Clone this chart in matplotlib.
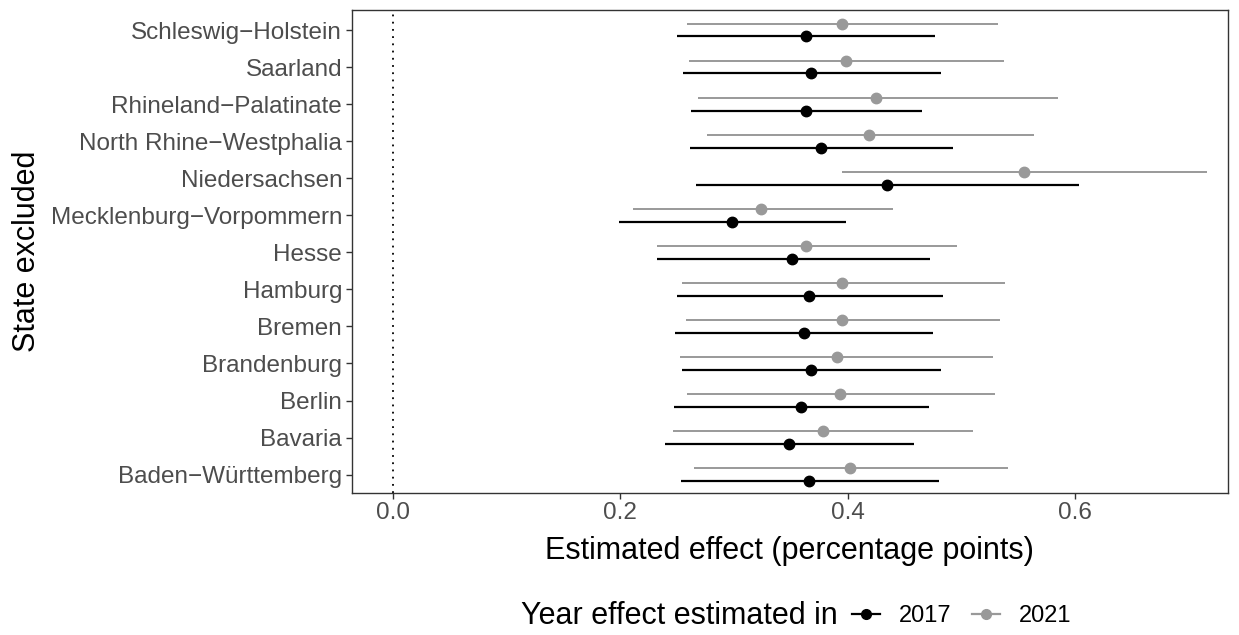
import matplotlib
matplotlib.use("Agg")
import matplotlib.pyplot as plt
from matplotlib.lines import Line2D
import numpy as np

plt.rcParams['font.family'] = ['Liberation Sans', 'DejaVu Sans']

states = ["Baden\u2212W\u00fcrttemberg", "Bavaria", "Berlin", "Brandenburg", "Bremen",
          "Hamburg", "Hesse", "Mecklenburg\u2212Vorpommern", "Niedersachsen",
          "North Rhine\u2212Westphalia", "Rhineland\u2212Palatinate", "Saarland",
          "Schleswig\u2212Holstein"]

est_2017 = [0.366, 0.348, 0.359, 0.368, 0.361, 0.366, 0.351, 0.298, 0.4345, 0.376, 0.363, 0.368, 0.363]
lo_2017 = [0.253, 0.239, 0.247, 0.254, 0.248, 0.250, 0.232, 0.199, 0.2665, 0.261, 0.2625, 0.255, 0.250]
hi_2017 = [0.480, 0.458, 0.471, 0.482, 0.475, 0.484, 0.472, 0.398, 0.603, 0.492, 0.465, 0.482, 0.477]

est_2021 = [0.402, 0.378, 0.393, 0.390, 0.395, 0.395, 0.363, 0.324, 0.555, 0.419, 0.425, 0.398, 0.395]
lo_2021 = [0.2645, 0.246, 0.259, 0.252, 0.258, 0.254, 0.232, 0.211, 0.395, 0.276, 0.268, 0.260, 0.259]
hi_2021 = [0.541, 0.510, 0.529, 0.528, 0.534, 0.538, 0.496, 0.440, 0.716, 0.564, 0.585, 0.537, 0.532]

years = ["2017", "2021"]
colors = {"2017": "#000000", "2021": "#999999"}
offsets = {"2017": -0.17, "2021": 0.17}
series = {"2017": (est_2017, lo_2017, hi_2017), "2021": (est_2021, lo_2021, hi_2021)}

fig = plt.figure(figsize=(12.39, 6.35), dpi=100)
ax = fig.add_axes([0.284, 0.224, 0.707, 0.760])

pos = np.arange(len(states))
ax.axvline(0, color="black", linestyle=(0, (1, 3)), linewidth=1.3, zorder=1)

for yr in ["2021", "2017"]:
    est, lo, hi = series[yr]
    y = pos + offsets[yr]
    lw = 1.6 if yr == "2017" else 1.4
    ax.hlines(y, lo, hi, color=colors[yr], linewidth=lw, zorder=2)
    ax.plot(est, y, 'o', color=colors[yr], markersize=7.5, zorder=3)

ax.set_xlim(-0.036, 0.734)
ax.set_ylim(-0.49, 12.54)
ax.set_yticks(pos)
ax.set_yticklabels(states)
ax.set_xticks([0.0, 0.2, 0.4, 0.6])
ax.set_xticklabels(["0.0", "0.2", "0.4", "0.6"])
ax.tick_params(axis='both', labelsize=17.5, labelcolor="#4D4D4D", color="#333333",
               length=4, width=1, pad=3)
for sp in ax.spines.values():
    sp.set_color("#333333")
    sp.set_linewidth(1)

ax.set_xlabel("Estimated effect (percentage points)", fontsize=22, labelpad=8)
ax.set_ylabel("State excluded", fontsize=22, labelpad=6)

# bottom legend: title on the left, keys laid out horizontally
handles = [Line2D([0], [0], color=colors[yr], marker='o', markersize=7, linewidth=1.6)
           for yr in years]
fig.text(0.4205, 0.030, "Year effect estimated in", fontsize=22, ha="left", va="center")
fig.legend(handles, years, loc="center left", bbox_to_anchor=(0.6877, 0.030), ncol=2,
           frameon=False, fontsize=17, handlelength=1.19, handletextpad=0.8,
           columnspacing=0.85, borderaxespad=0, borderpad=0)

fig.savefig("out.png", dpi=100)
